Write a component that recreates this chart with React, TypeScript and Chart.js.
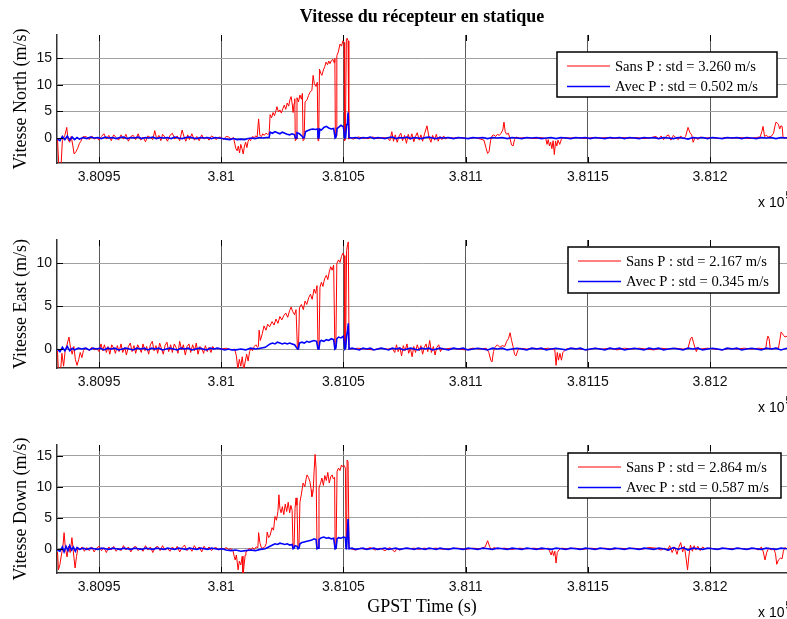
import React, { useEffect, useRef } from 'react';
import { Chart, registerables } from 'chart.js';

Chart.register(...registerables);

// ---- shared axis data ----
const T0 = 380900; // seconds; series times below are offsets from T0
const X_MIN = 380932.8;
const X_MAX = 381231.5;
const xTickValues = [380950, 381000, 381050, 381100, 381150, 381200];
const xTickLabels = ['3.8095', '3.81', '3.8105', '3.811', '3.8115', '3.812'];

const chartTitle = 'Vitesse du récepteur en statique';
const xAxisTitle = 'GPST Time (s)';

// ---- North ----
const northTicks = [0, 5, 10, 15];
const northRange = [-4.7, 19.4];
const northLegend = ['Sans P : std = 3.260 m/s', 'Avec P : std = 0.502 m/s'];
const northSans: [number, number][] = [
  [33,-0.2],[33.5,-4.8],[34.5,-4.8],[35,-0.5],[36,0.5],[36.8,2.0],[37.3,-0.3],[38,-0.8],[38.6,0.3],[39.3,-1.5],[39.8,-3.0],[40.5,-2.6],[41.2,-2.0],[42,-1.0],[42.6,-0.6],[43.3,0.2],[44,0.3],
  [45,0.2],[46,-0.3],[47,0.4],[48,-0.2],[49,0.1],[50,-0.4],[51,0.3],[52,0.8],[53,-0.2],[54,0.5],[55,-0.5],[56,0.6],[57,0.1],[58,-0.4],[59,0.6],[60,-0.2],[61,0.7],[62,-0.6],[63,0.3],[64,0.5],[65,-0.3],[66,0.8],[67,-0.4],[68,0.2],[69,-0.7],[70,0.4],[71,0.1],[72,-0.3],[72.8,1.4],[73.6,-0.2],[74.5,0.5],[75.3,-0.5],[76,0.7],[77,0.2],[78,-0.6],[79,0.5],[80,0.9],[81,-0.2],[82,0.4],[83,-0.5],[84,1.5],[84.8,0.2],[85.5,-0.6],[86.3,0.6],[87,-0.3],[88,0.8],[89,-0.4],[90,0.3],[91,-0.5],[92,0.6],[93,-0.2],[94,0.2],[95,-0.4],[96,0.4],[97,0.1],[98,-0.3],[99,0.2],[100,0.1],[101,-0.3],[102,0.3],[103,0.2],[104,-0.2],[105,0.1],
  [106,-2.0],[106.5,-2.4],[107,-1.5],[107.5,-2.8],[108,-1.2],[108.5,-2.0],[109,-3.0],[109.5,-1.5],[110,-0.8],[110.5,-1.8],[111,-0.6],[111.5,-0.2],[112,-0.5],[112.5,0.1],[113,0.3],[113.5,-0.2],[114,0.4],[114.7,0.2],[115.3,3.6],[115.8,0.5],[116.5,0.3],[117,0.8],[117.6,0.5],[118.3,0.9],[119,0.7],[119.6,0.8],
  [120,4.4],[120.6,3.8],[121.2,4.8],[121.8,4.2],[122.4,5.2],[122.8,5.9],[123.4,4.9],[124,5.3],[124.6,4.7],[125.2,5.5],[125.8,6.2],[126.4,5.4],[127,6.6],[127.6,6.0],[128.1,7.2],[128.6,7.8],[129.1,6.2],[129.4,4.8],[129.8,6.5],[130.1,7.4],[130.3,-0.5],[130.6,-0.2],[131,7.6],[131.6,6.8],[132.2,8.1],[132.8,7.3],[133.2,8.4],[133.5,-0.5],[133.9,-0.3],[134.3,6.8],[135.1,7.2],[135.7,8.0],[136.3,8.6],[137.1,9.0],[137.6,11.8],[138.1,10.2],[138.8,9.7],[139.3,10.5],[139.6,-0.5],[139.9,0.2],[140.2,13.0],[140.7,12.2],[141.2,11.8],[141.8,12.8],[142.4,13.5],[142.9,14.3],[143.5,13.8],[144,14.5],[144.5,14.0],[145.1,14.6],[145.7,14.8],[146.2,14.2],[146.5,15.0],[146.7,0.2],[147,0.4],[147.3,15.5],[147.9,16.2],[148.6,17.7],[149.2,17.3],[149.8,18.3],[150.3,18.0],[150.5,-0.5],[150.8,-0.2],[151.2,18.5],[151.5,18.8],[151.9,18.3],[152.2,-0.2],[152.6,0.1],
  [154,-0.2],[156,0.2],[158,0],[160,-0.1],[162,0.2],[164,-0.1],[166,0.1],[168,0],[169,-0.5],[169.8,1.2],[170.5,-0.6],[171.2,0.6],[172,-0.8],[172.8,0.4],[173.5,0.9],[174.2,-0.5],[175,0.5],[175.8,-1.0],[176.5,0.7],[177.3,-0.3],[178,0.8],[178.8,-0.7],[179.5,0.3],[180.2,1.0],[181,-0.4],[181.7,0.6],[182.4,-0.6],[183.2,0.8],[184.2,2.3],[185,0.2],[185.8,-0.8],[186.5,0.5],[187.3,-0.4],[188,0.7],[188.8,-0.6],[189.5,0.3],[190.3,-0.3],[191,0.4],[191.8,-0.2],[192.5,0.1],[195,0],[198,0.1],[201,-0.1],[204,0.1],[206,-0.2],[207.5,-0.4],[208.3,-1.8],[209,-2.9],[209.6,-2.5],[210.2,-0.5],[210.8,0.4],[211.5,0.6],[212.3,0.3],[213,0.7],[213.8,0.5],[214.5,0.9],[215.2,1.5],[215.7,3.0],[216.2,1.2],[216.8,0.7],[217.5,0.9],[218.2,-0.2],[218.8,-1.3],[219.4,-1.5],[220,-0.3],[220.6,0.2],[222,0],[225,0.1],[228,-0.1],[231,0.1],[232.8,-0.1],[233.3,-1.2],[233.8,-0.3],[234.3,-1.5],[234.8,-0.8],[235.3,-2.0],[235.8,-0.5],[236.3,-3.1],[236.8,-0.6],[237.3,-1.5],[237.8,-0.4],[238.5,-1.2],[239.2,-0.2],[240,0.1],[243,0],[246,0.1],[249,-0.1],[252,0.1],[255,0],[258,0.1],[261,-0.1],[264,0.1],[267,0],[270,0.1],[273,-0.1],[276,0.1],[278,0.3],[279,-0.2],[280,0.4],[281,-0.3],[282,0.3],[283,0.6],[284,-0.4],[285,0.5],[286,0.1],[287,-0.3],[288,0.4],[289,-0.2],[290,0.3],[291,2.0],[291.8,1.0],[292.5,0.6],[293.1,-0.8],[294,0.2],[295,-0.3],[296,0.2],[298,0],[301,0.1],[304,-0.1],[307,0.1],[310,0],[313,0.1],[316,-0.1],[319,0.1],[320.5,0.2],[321.2,1.2],[321.7,2.2],[322.3,0.3],[323,0.5],[324,0.2],[325,0.3],[326,0.9],[326.5,2.1],[327,3.0],[327.5,2.8],[328,2.6],[328.5,1.7],[329,2.3],[329.5,2.2],[329.9,0.1],[330.5,0],[331.5,0.1],
];
const northAvec: [number, number][] = [
  [33,-0.2],[34,-0.5],[35,0.3],[36,-0.3],[37,0.4],[38,-0.4],[39,0.2],[40,-0.3],[41,0.1],[42,-0.2],[43.5,0.1],[45,-0.1],[46.5,0.2],[48,0],[49.5,0.1],[51,-0.1],[52.5,0.2],[54,0],[55.5,0.1],[57,-0.1],[58.5,0.1],[60,0.2],[61.5,-0.1],[63,0.1],[64.5,0],[66,0.2],[67.5,-0.1],[69,0.1],[70.5,0],[72,0.2],[73.5,-0.1],[75,0.1],[76.5,0],[78,0.1],[79.5,-0.1],[81,0.2],[82.5,0],[84,-0.1],[85.5,0.1],[87,0.2],[88.5,0],[90,-0.1],[91.5,0.1],[93,0],[94.5,0.1],[96,-0.1],[97.5,0.1],[99,0],[100.5,-0.1],[102,-0.2],[103.5,-0.3],[105,-0.1],[106.5,-0.3],[108,-0.2],[109.5,-0.3],[111,-0.1],[112.5,0],[114,-0.1],[115.5,0.1],[117,0],[118.5,0.1],[119.6,0.1],
  [120,1.1],[121,0.9],[122,1.2],[123,1.0],[124,0.8],[125,1.1],[126,0.9],[127,0.7],[128,0.6],[129,0.8],[130,0.6],[130.3,0],[130.7,0],[131,1.0],[132,0.8],[133.2,0.3],[133.5,0],[134,0.1],[134.5,1.2],[135.5,1.4],[136.5,1.6],[137.5,1.7],[138.5,1.6],[139.5,1.7],[139.6,0],[140,0.1],[140.3,1.7],[141,1.5],[142,2.0],[143,2.2],[144,1.9],[145,1.7],[146,1.8],[146.6,0],[147,0.2],[147.4,1.8],[148,2.0],[149,2.4],[150,2.1],[150.5,0],[150.9,0.1],[151.3,2.5],[151.6,2.6],[151.9,4.8],[152.3,0.1],
  [153.5,0],[155,0.1],[156.5,-0.1],[158,0.1],[159.5,0],[161,0.2],[162.5,-0.1],[164,0.1],[165.5,0],[167,-0.1],[168.5,0.1],[170,0.2],[171.5,-0.1],[173,0.1],[174.5,0],[176,0.2],[177.5,-0.1],[179,0.1],[180.5,0],[182,-0.1],[183.5,0.1],[185,0.2],[186.5,0],[188,-0.1],[189.5,0.1],[191,0],[193,0.1],[195,-0.1],[197,0.1],[199,0],[201,-0.1],[203,0.1],[205,0],[207,0.1],[209,-0.1],[211,0.1],[213,0],[215,0.1],[217,-0.1],[219,0.1],[221,0],[223,-0.1],[225,0.1],[227,0],[229,0.1],[231,-0.1],[233,0],[235,0.1],[237,-0.1],[239,0.1],[241,0],[243,-0.1],[245,0.1],[247,0],[249,0.1],[251,-0.1],[253,0.1],[255,0],[257,-0.1],[259,0.1],[261,0],[263,0.1],[265,-0.1],[267,0.1],[269,0],[271,-0.1],[273,0.1],[275,0],[277,0.1],[279,-0.1],[281,0.1],[283,0],[285,-0.1],[287,0.1],[289,0],[291,-0.2],[293,0.1],[295,0],[297,0.1],[299,-0.1],[301,0.1],[303,0],[305,-0.1],[307,0.1],[309,0],[311,0.1],[313,-0.1],[315,0.1],[317,0],[319,-0.1],[321,0.1],[323,0],[325,0.1],[327,-0.1],[329,0.1],[331.5,0],
];

// ---- East ----
const eastTicks = [0, 5, 10];
const eastRange = [-2.21, 12.72];
const eastLegend = ['Sans P : std = 2.167 m/s', 'Avec P : std = 0.345 m/s'];
const eastSans: [number, number][] = [
  [33,-0.2],[33.4,-2.8],[34.2,-2.8],[34.8,-0.5],[35.5,-2.0],[36.1,-0.3],[36.8,0.4],[37.7,1.4],[38.3,0.2],[39,-0.6],[39.7,0.3],[40.3,-1.2],[41,-1.9],[41.7,-1.2],[42.3,-0.4],[43,-1.0],[43.6,-0.2],[44.4,0.1],
  [45,0.1],[46,-0.2],[47,0.2],[48,-0.1],[49,0.1],[50,-0.3],[50.8,0.6],[51.5,-0.2],[52.2,0.5],[53,-0.4],[53.7,0.3],[54.4,-0.6],[55.2,0.5],[56,0.1],[56.7,-0.5],[57.5,0.4],[58.2,-0.3],[59,0.6],[59.7,-0.4],[60.5,0.2],[61.2,-0.7],[62,0.3],[62.8,0.7],[63.5,-0.3],[64.3,0.4],[65,-0.5],[65.8,0.5],[66.5,0.1],[67.3,-0.4],[68,0.6],[68.8,-0.2],[69.5,0.3],[70.3,-0.6],[71,0.5],[71.8,0.9],[72.5,-0.2],[73.3,0.4],[74,-0.5],[74.8,0.7],[75.5,0.1],[76.3,-0.6],[77,0.4],[77.8,0.8],[78.5,-0.3],[79.3,0.5],[80,-0.4],[80.8,0.6],[81.5,0.2],[82.3,-0.5],[83,0.9],[83.8,-0.1],[84.5,0.5],[85.3,-0.7],[86,0.3],[86.8,0.6],[87.5,-0.4],[88.3,0.5],[89,-0.2],[89.8,0.7],[90.5,-0.6],[91.3,0.3],[92,0.1],[92.8,-0.5],[93.5,0.4],[94.3,-0.3],[95,0.2],[95.8,-0.4],[96.5,0.3],[97.3,0],[98,0.1],[100,0],[102,0.1],[104,-0.1],[105.5,0],
  [106.2,-0.8],[106.8,-2.4],[107.4,-1.2],[108,-2.0],[108.6,-0.9],[109.2,-2.4],[109.8,-1.5],[110.4,-0.6],[111,-1.4],[111.6,-0.3],[112.2,0.1],[112.8,-0.2],[113.5,0.3],[114.2,0.5],[114.8,0.2],[115.2,0.3],
  [115.5,2.2],[116,1.0],[116.8,1.8],[117.5,2.7],[118.3,2.2],[119,2.9],[119.8,2.6],[120.8,3.2],[121.6,2.8],[122.4,3.5],[123.2,3.0],[124,3.8],[124.8,3.4],[125.6,3.9],[126.4,4.2],[127.2,3.7],[128,4.5],[128.6,4.9],[129.2,4.4],[130,4.0],[130.6,4.6],[131.2,-0.1],[131.6,0.1],[132,4.8],[132.8,5.2],[133.6,4.6],[134.3,5.6],[135,5.2],[135.8,6.0],[136.5,6.4],[137.2,5.8],[138,7.0],[138.6,6.5],[139.2,7.4],[139.6,0],[140,0.2],[140.4,7.2],[141,7.8],[141.6,7.3],[142.3,8.2],[143,8.6],[143.6,8.1],[144.2,9.0],[144.8,9.6],[145.4,9.2],[146,9.8],[146.5,0.1],[146.9,0.2],[147.3,10.0],[148,10.4],[148.6,10.1],[149.2,10.8],[149.8,11.2],[150.3,10.9],[150.6,0],[150.9,0.2],[151.3,11.5],[151.7,12.2],[152,12.5],[152.3,0],[152.7,0.1],
  [153,0],[156,0.1],[159,0],[162,-0.1],[165,0.1],[168,0],[170,0.1],[171,-0.4],[171.7,0.5],[172.4,-0.3],[173.1,0.2],[173.8,-0.8],[174.5,0.4],[175.2,-0.2],[176,0.6],[176.7,-0.5],[177.4,0.1],[178.1,-0.9],[178.8,0.3],[179.5,-0.4],[180.2,0.5],[181,-0.2],[181.7,0.4],[182.4,-0.6],[183.1,0.2],[183.8,0.6],[184.5,-0.3],[185.3,1.0],[186,-0.4],[186.8,0.3],[187.5,-0.7],[188.2,0.2],[189,0.5],[189.7,-0.3],[190.5,0.1],[191.5,0],[194,0.1],[197,0],[200,-0.1],[203,0.1],[206,0],[208.5,0.1],[209.5,-0.4],[210.3,-1.3],[210.8,-1.5],[211.4,-0.3],[212,0.2],[213,0.5],[214,0.2],[215,0.4],[216,0.3],[216.8,0.9],[217.5,1.2],[218.2,1.9],[218.8,1.0],[219.4,0.3],[220,-0.6],[220.6,-0.8],[221.3,-0.2],[222,0.1],[225,0],[228,0.1],[231,0],[234,0.1],[236.5,-0.1],[237,-1.9],[237.5,-0.4],[238,-1.3],[238.6,-0.5],[239.2,-1.3],[239.8,-0.4],[240.5,-0.2],[241,0],[244,0.1],[247,0],[250,-0.1],[253,0.1],[256,0],[259,0.1],[262,-0.1],[265,0.1],[268,0],[271,0.1],[274,0],[277,-0.1],[280,0.1],[283,0],[286,0.1],[289,0],[291,0.1],[292,1.2],[292.6,1.4],[293.2,0.8],[293.8,0.2],[294.4,-0.3],[295,0.2],[296,0],[299,0.1],[302,0],[305,-0.1],[308,0.1],[311,0],[314,0.1],[317,0],[320,0.1],[322.8,0],[323.2,0.9],[323.7,1.5],[324.2,1.2],[324.6,0.1],[325.5,0],[327,0.1],[328,0.1],[328.6,1.1],[329.1,2.0],[329.6,1.8],[330.1,1.6],[330.7,1.4],[331.5,1.5],
];
const eastAvec: [number, number][] = [
  [33,0],[34,-0.3],[35,0.2],[36,-0.2],[37,0.3],[38,-0.2],[39,0.1],[40,-0.1],[41.5,0.1],[43,0],[44.5,0.1],[46,-0.1],[47.5,0.1],[49,0],[50.5,0.1],[52,-0.1],[53.5,0.1],[55,0],[56.5,0.1],[58,-0.1],[59.5,0],[61,0.1],[62.5,0],[64,-0.1],[65.5,0.1],[67,0],[68.5,0.1],[70,-0.1],[71.5,0.1],[73,0],[74.5,0.1],[76,-0.1],[77.5,0],[79,0.1],[80.5,0],[82,-0.1],[83.5,0.1],[85,0],[86.5,0.1],[88,-0.1],[89.5,0],[91,0.1],[92.5,0],[94,-0.1],[95.5,0.1],[97,0],[98.5,0.1],[100,0],[101.5,-0.1],[103,0],[104.5,-0.1],[106,-0.1],[108,0],[110,-0.1],[112,0.1],[114,0],[116,0.1],[118,0.2],
  [120,0.6],[121,0.7],[122,0.6],[123,0.8],[124,0.7],[125,0.6],[126,0.7],[127,0.6],[128,0.7],[129,0.6],[130,0.5],[131.2,0],[131.6,0],[132,0.7],[133,0.8],[134,0.7],[135,0.9],[136,0.8],[137,0.9],[138,1.0],[139,0.9],[139.6,0],[140,0.1],[140.4,0.9],[141,1.0],[142,0.9],[143,1.1],[144,1.0],[145,1.2],[146,1.1],[146.5,0],[146.9,0.1],[147.3,1.2],[148,1.4],[149,1.3],[150,1.5],[150.6,0],[150.9,0.1],[151.3,1.5],[151.7,2.2],[152,3.0],[152.3,0],
  [153.5,0.1],[155,0],[156.5,-0.1],[158,0.1],[159.5,0],[161,0.1],[162.5,-0.1],[164,0],[165.5,0.1],[167,0],[168.5,-0.1],[170,0.1],[171.5,0],[173,0.1],[174.5,-0.1],[176,0],[177.5,0.1],[179,0],[180.5,-0.1],[182,0.1],[183.5,0],[185,0.1],[186.5,-0.1],[188,0],[189.5,0.1],[191,0],[193,-0.1],[195,0.1],[197,0],[199,0.1],[201,-0.1],[203,0],[205,0.1],[207,0],[209,-0.1],[211,0.1],[213,0],[215,0.1],[217,-0.1],[219,0],[221,0.1],[223,0],[225,-0.1],[227,0.1],[229,0],[231,0.1],[233,-0.1],[235,0],[237,0.1],[239,0],[241,-0.1],[243,0.1],[245,0],[247,0.1],[249,-0.1],[251,0],[253,0.1],[255,0],[257,-0.1],[259,0.1],[261,0],[263,0.1],[265,-0.1],[267,0],[269,0.1],[271,0],[273,-0.1],[275,0.1],[277,0],[279,0.1],[281,-0.1],[283,0],[285,0.1],[287,0],[289,-0.1],[291,0.1],[293,0],[295,0.1],[297,-0.1],[299,0],[301,0.1],[303,0],[305,-0.1],[307,0.1],[309,0],[311,0.1],[313,-0.1],[315,0],[317,0.1],[319,0],[321,-0.1],[323,0.1],[325,0],[327,0.1],[329,-0.1],[331.5,0.1],
];

// ---- Down ----
const downTicks = [0, 5, 10, 15];
const downRange = [-3.9, 16.72];
const downLegend = ['Sans P : std = 2.864 m/s', 'Avec P : std = 0.587 m/s'];
const downSans: [number, number][] = [
  [33,-0.5],[33.4,-3.4],[34,-2.5],[34.6,-1.0],[35.2,0.3],[35.7,2.6],[36.2,0.2],[36.9,-1.3],[37.5,0.4],[38.2,-0.6],[38.9,1.8],[39.5,-0.5],[40.2,-3.1],[40.8,-1.2],[41.4,0.2],[42.2,-0.2],[43,0.3],[44,-0.4],[45,0.2],[46,-0.3],[47,0.3],[48,-0.5],[49,0.1],[50,0.4],[51,-0.3],[52,0.2],[53,-0.6],[54,0.3],[55,-0.2],[56,0.4],[57,-0.4],[58,0.1],[59,-0.3],[60,0.5],[61,-0.2],[62,0.3],[63,-0.5],[64,0.2],[65,0.4],[66,-0.3],[67,0.1],[68,-0.4],[69,0.5],[70,-0.2],[71,0.3],[72,-0.6],[73,0.2],[74,0.4],[75,-0.3],[76,0.5],[77,-0.2],[78,0.1],[79,-0.4],[80,0.3],[81,-0.2],[82,0.4],[83,-0.5],[84,0.2],[85,0.6],[86,-0.3],[87,0.2],[88,-0.4],[89,0.5],[90,-0.1],[91,0.3],[92,-0.5],[93,0.4],[94,-0.2],[95,0.3],[96,-0.3],[97,0.1],[98,0.2],[99,-0.2],[100,0.1],[101,-0.1],[102,0.2],[103,-0.1],[104,0],
  [104.8,-0.3],[105.3,-1.2],[105.7,-1.8],[106.2,-1.0],[106.9,-3.4],[107.4,-2.0],[108,-2.6],[108.6,-1.2],[108.9,-4.5],[109.3,-2.8],[109.8,-1.0],[110.1,-0.5],[110.8,-0.3],[111.5,0.1],[112.2,-0.2],[112.8,0.2],[113.5,-0.1],[114.3,0.3],[115,0.2],[115.3,2.6],[115.8,1.0],[116.4,0.2],[117,0.1],[117.8,0.3],[118.4,0.8],[118.8,2.7],[119.4,1.8],[120,2.2],[120.8,3.4],[121.4,3.0],[122,5.2],[122.6,4.6],[123.2,6.0],[123.6,8.7],[124,6.5],[124.5,5.8],[125,6.8],[125.6,5.5],[126.2,7.2],[126.8,6.0],[127.4,7.5],[128,5.8],[128.5,7.0],[129,6.2],[129.4,0.1],[129.8,0.2],[130.2,6.5],[130.6,8.2],[131,7.0],[131.4,0],[131.8,0.2],[132.2,7.5],[132.8,8.8],[133.5,10.6],[134.2,10.0],[134.7,11.2],[135.1,11.9],[135.7,11.5],[136.3,10.8],[136.8,9.5],[137.1,8.4],[137.6,9.2],[138,12.5],[138.4,15.2],[138.8,13.0],[139.2,0.1],[139.6,0.2],[140,9.8],[140.6,10.5],[141.2,11.4],[141.8,10.2],[142.4,11.8],[143,11.0],[143.6,12.3],[144.2,10.6],[144.8,11.6],[145.4,11.9],[145.8,11.3],[146.4,11.5],[146.6,0],[147,0.1],[147.4,12.5],[148,13.0],[148.6,12.6],[149.2,13.5],[149.8,13.2],[150.3,13.4],[150.8,13.0],[151.1,0],[151.3,0.2],[151.5,14.3],[151.9,14.0],[152.3,0],[152.7,0.1],
  [153,0],[155,-0.2],[157,0.1],[159,-0.1],[161,0.2],[163,-0.2],[165,0.1],[167,-0.3],[169,0.2],[171,-0.5],[172,0.1],[173,-0.2],[175,0.1],[177,0],[179,0.1],[181,-0.1],[183,0.1],[185,0],[188,0.1],[191,-0.1],[194,0],[197,0.1],[200,-0.1],[203,0.1],[206,0],[208,0.3],[209,1.3],[209.8,0.4],[210.5,-0.2],[211.5,0.2],[213,0],[216,0.1],[219,-0.1],[222,0.1],[225,0],[228,0.1],[231,-0.1],[233.8,0.1],[234.5,-0.5],[235,-1.0],[235.5,-0.3],[236,-1.1],[236.5,-0.4],[237,-2.3],[237.5,-0.6],[238.2,-0.2],[239,0.1],[242,0],[245,0.1],[248,-0.1],[251,0.1],[254,0],[257,0.1],[260,-0.1],[263,0.1],[266,0],[269,0.1],[272,-0.1],[275,0.2],[278,0.1],[280,-0.2],[281.5,0.1],[282.5,-0.3],[283.5,0.5],[284.5,-0.6],[285.5,0.3],[286.5,-0.9],[287.2,0.2],[288,1.0],[288.8,-0.5],[289.5,0.4],[290.2,-1.5],[290.8,-3.4],[291.4,-1.0],[292,0.6],[292.8,-0.4],[293.5,0.5],[294.2,-0.2],[295,0.4],[296,-0.3],[297,0.3],[298,0],[300,0.1],[303,-0.1],[306,0.1],[309,0],[312,0.1],[315,-0.1],[318,0.1],[320,-0.2],[321,0.3],[321.8,-0.5],[322.5,-1.8],[323.2,-0.6],[324,0.1],[325,-0.2],[326,0.1],[326.8,-0.8],[327.3,-2.5],[328,-1.8],[328.8,-1.5],[329.5,-1.6],[330,-0.4],[330.6,0.2],[331.5,0],
];
const downAvec: [number, number][] = [
  [33,-0.2],[34,-0.4],[35,0.3],[35.7,-0.5],[36.5,0.4],[37.3,-0.3],[38,0.5],[38.8,-0.2],[39.5,0.3],[40.3,-0.4],[41,0.2],[42,-0.1],[43.5,0.1],[45,-0.1],[46.5,0.1],[48,0],[49.5,-0.1],[51,0.1],[52.5,0],[54,-0.1],[55.5,0.1],[57,0],[58.5,-0.1],[60,0.1],[61.5,0],[63,-0.1],[64.5,0.1],[66,0],[67.5,-0.1],[69,0.1],[70.5,0],[72,-0.1],[73.5,0.1],[75,0],[76.5,-0.1],[78,0.1],[79.5,0],[81,-0.1],[82.5,0.1],[84,0],[85.5,-0.1],[87,0.1],[88.5,0],[90,-0.1],[91.5,0.1],[93,0],[94.5,-0.1],[96,0.1],[97.5,0],[99,-0.1],[100.5,0],[102,-0.2],[104,-0.3],[106,-0.2],[108,-0.4],[110,-0.3],[112,-0.2],[114,-0.3],[116,-0.1],[118,0],[119,0.2],
  [120,0.4],[121,0.6],[122,0.8],[123,0.7],[124,0.9],[125,0.8],[126,0.7],[127,0.8],[128,0.6],[129,0.7],[129.4,0],[129.8,0.1],[130.2,0.5],[131,0.4],[131.4,0],[131.8,0.1],[132.2,0.8],[133,1.0],[134,1.1],[135,1.2],[136,1.3],[137,1.4],[138,1.6],[138.8,1.5],[139.2,0],[139.6,0.1],[140,1.5],[141,1.8],[142,1.9],[143,1.7],[144,1.8],[145,1.6],[146,1.7],[146.6,0],[147,0.1],[147.4,1.6],[148,1.8],[149,1.7],[150,1.9],[150.8,1.8],[151.1,0],[151.3,0.1],[151.5,1.8],[151.9,4.8],[152.3,0],
  [153.5,0.1],[155,-0.1],[156.5,0],[158,0.1],[159.5,-0.1],[161,0],[162.5,0.1],[164,-0.1],[165.5,0],[167,0.1],[168.5,-0.1],[170,0],[171.5,0.1],[173,-0.1],[174.5,0],[176,0.1],[177.5,0],[179,-0.1],[180.5,0.1],[182,0],[183.5,-0.1],[185,0.1],[186.5,0],[188,-0.1],[189.5,0.1],[191,0],[193,-0.1],[195,0.1],[197,0],[199,-0.1],[201,0.1],[203,0],[205,-0.1],[207,0.1],[209,0],[211,-0.1],[213,0.1],[215,0],[217,-0.1],[219,0.1],[221,0],[223,-0.1],[225,0.1],[227,0],[229,-0.1],[231,0.1],[233,0],[235,-0.1],[237,0.1],[239,0],[241,-0.1],[243,0.1],[245,0],[247,-0.1],[249,0.1],[251,0],[253,-0.1],[255,0.1],[257,0],[259,-0.1],[261,0.1],[263,0],[265,-0.1],[267,0.1],[269,0],[271,-0.1],[273,0.1],[275,0],[277,-0.1],[279,0.1],[281,0],[283,-0.2],[285,0.2],[287,-0.1],[289,0.2],[291,-0.2],[293,0.1],[295,0],[297,-0.1],[299,0.1],[301,0],[303,-0.1],[305,0.1],[307,0],[309,-0.1],[311,0.1],[313,0],[315,-0.1],[317,0.1],[319,0],[321,-0.1],[323,0.1],[325,0],[327,-0.1],[329,0.1],[331.5,0],
];

const SERIF = '"Liberation Serif", "Times New Roman", serif';
const SANS = '"Liberation Sans", Arial, sans-serif';

type PanelProps = {
  top: number;
  height: number;
  areaTop: number;
  bottomH: number;
  range: number[];
  yTicks: number[];
  yLabel: string;
  legend: string[];
  legendBox: { x: number; dy: number; w: number; h: number };
  sans: [number, number][];
  avec: [number, number][];
  showTitle?: boolean;
  showXLabel?: boolean;
};

function Panel(p: PanelProps) {
  const ref = useRef<HTMLCanvasElement | null>(null);
  useEffect(() => {
    const canvas = ref.current;
    if (!canvas) return;
    const deco = {
      id: 'deco',
      afterDraw(chart: any) {
        const ctx = chart.ctx as CanvasRenderingContext2D;
        const a = chart.chartArea;
        const xs = chart.scales.x;
        const ys = chart.scales.y;
        ctx.save();
        // inner tick marks
        ctx.strokeStyle = '#000';
        ctx.lineWidth = 1;
        ctx.beginPath();
        xTickValues.forEach((v) => {
          const px = Math.round(xs.getPixelForValue(v)) + 0.5;
          ctx.moveTo(px, a.bottom);
          ctx.lineTo(px, a.bottom - 6);
          ctx.moveTo(px, a.top);
          ctx.lineTo(px, a.top + 6);
        });
        p.yTicks.forEach((v) => {
          const py = Math.round(ys.getPixelForValue(v)) + 0.5;
          ctx.moveTo(a.left, py);
          ctx.lineTo(a.left + 6, py);
        });
        ctx.stroke();
        // y axis title
        ctx.fillStyle = '#000';
        ctx.font = `18px ${SERIF}`;
        ctx.textAlign = 'center';
        ctx.textBaseline = 'middle';
        ctx.save();
        ctx.translate(21, (a.top + a.bottom) / 2);
        ctx.rotate(-Math.PI / 2);
        ctx.fillText(p.yLabel, 0, 0);
        ctx.restore();
        // exponent label
        ctx.font = `14px ${SANS}`;
        ctx.textAlign = 'left';
        ctx.textBaseline = 'middle';
        const ey = a.bottom + 40;
        ctx.fillText('x 10', 758, ey);
        const w = ctx.measureText('x 10').width;
        ctx.font = `10px ${SANS}`;
        ctx.fillText('5', 758 + w + 1, ey - 7);
        // legend
        const lb = p.legendBox;
        const bx = lb.x;
        const by = a.top + lb.dy;
        ctx.fillStyle = '#fff';
        ctx.fillRect(bx, by, lb.w, lb.h);
        ctx.strokeStyle = '#000';
        ctx.lineWidth = 1.5;
        ctx.strokeRect(bx, by, lb.w, lb.h);
        const rows = [by + 14, by + 34.5];
        const cols = ['#ff0000', '#0000ff'];
        const widths = [1, 1.5];
        rows.forEach((ry, i) => {
          ctx.strokeStyle = cols[i];
          ctx.lineWidth = widths[i];
          ctx.beginPath();
          ctx.moveTo(bx + 10, ry);
          ctx.lineTo(bx + 53, ry);
          ctx.stroke();
          ctx.fillStyle = '#000';
          ctx.font = `14.6px ${SERIF}`;
          ctx.textAlign = 'left';
          ctx.textBaseline = 'middle';
          ctx.fillText(p.legend[i], bx + 58, ry + 1);
        });
        // figure title / x label
        const cx = (a.left + a.right) / 2;
        if (p.showTitle) {
          ctx.fillStyle = '#000';
          ctx.font = `bold 18px ${SERIF}`;
          ctx.textAlign = 'center';
          ctx.textBaseline = 'middle';
          ctx.fillText(chartTitle, cx, 17);
        }
        if (p.showXLabel) {
          ctx.fillStyle = '#000';
          ctx.font = `18px ${SERIF}`;
          ctx.textAlign = 'center';
          ctx.textBaseline = 'middle';
          ctx.fillText(xAxisTitle, cx, a.bottom + 34);
        }
        ctx.restore();
      },
    };
    const chart = new Chart(canvas, {
      type: 'line',
      data: {
        datasets: [
          {
            label: p.legend[1],
            data: p.avec.map(([t, v]) => ({ x: T0 + t, y: v })),
            borderColor: '#0000ff',
            borderWidth: 1.6,
            pointRadius: 0,
            tension: 0,
            order: 1,
          },
          {
            label: p.legend[0],
            data: p.sans.map(([t, v]) => ({ x: T0 + t, y: v })),
            borderColor: '#ff0000',
            borderWidth: 1,
            pointRadius: 0,
            tension: 0,
            order: 2,
          },
        ],
      },
      options: {
        animation: false,
        responsive: false,
        devicePixelRatio: 1,
        events: [],
        layout: { padding: { top: p.areaTop, left: 0, right: 0, bottom: 0 } },
        plugins: { legend: { display: false }, tooltip: { enabled: false }, title: { display: false } },
        scales: {
          x: {
            type: 'linear',
            min: X_MIN,
            max: X_MAX,
            afterBuildTicks: (s: any) => {
              s.ticks = xTickValues.map((v) => ({ value: v }));
            },
            afterFit: (s: any) => {
              s.height = p.bottomH;
            },
            ticks: {
              autoSkip: false,
              maxRotation: 0,
              padding: 6,
              color: '#111',
              font: { family: SANS, size: 14 },
              callback: (v: any) => {
                const i = xTickValues.indexOf(Number(v));
                return i >= 0 ? xTickLabels[i] : '';
              },
            },
            grid: { color: '#5a5a5a', lineWidth: 1, drawTicks: false },
            border: { display: true, color: '#333', width: 1.5 },
          },
          y: {
            type: 'linear',
            min: p.range[0],
            max: p.range[1],
            afterBuildTicks: (s: any) => {
              s.ticks = p.yTicks.map((v) => ({ value: v }));
            },
            afterFit: (s: any) => {
              s.width = 57;
            },
            ticks: {
              autoSkip: false,
              padding: 5,
              color: '#111',
              font: { family: SANS, size: 14 },
              callback: (v: any) => String(v),
            },
            grid: { color: '#a0a0a0', lineWidth: 1, drawTicks: false },
            border: { display: true, color: '#333', width: 1.5 },
          },
        },
      },
      plugins: [deco],
    } as any);
    return () => chart.destroy();
  }, []);
  return (
    <canvas
      ref={ref}
      width={787}
      height={p.height}
      style={{ position: 'absolute', left: 0, top: p.top, width: 787, height: p.height }}
    />
  );
}

export default function App() {
  return (
    <div style={{ position: 'fixed', left: 0, top: 0, width: 787, height: 619, background: '#fff', overflow: 'hidden' }}>
      <Panel
        top={0}
        height={215}
        areaTop={35}
        bottomH={52}
        range={northRange}
        yTicks={northTicks}
        yLabel="Vitesse North (m/s)"
        legend={northLegend}
        legendBox={{ x: 557, dy: 17, w: 220, h: 45 }}
        sans={northSans}
        avec={northAvec}
        showTitle
      />
      <Panel
        top={215}
        height={205}
        areaTop={25}
        bottomH={52}
        range={eastRange}
        yTicks={eastTicks}
        yLabel="Vitesse East (m/s)"
        legend={eastLegend}
        legendBox={{ x: 568, dy: 7, w: 211, h: 46 }}
        sans={eastSans}
        avec={eastAvec}
      />
      <Panel
        top={420}
        height={199}
        areaTop={25}
        bottomH={46}
        range={downRange}
        yTicks={downTicks}
        yLabel="Vitesse Down (m/s)"
        legend={downLegend}
        legendBox={{ x: 568, dy: 8, w: 213, h: 45 }}
        sans={downSans}
        avec={downAvec}
        showXLabel
      />
    </div>
  );
}
